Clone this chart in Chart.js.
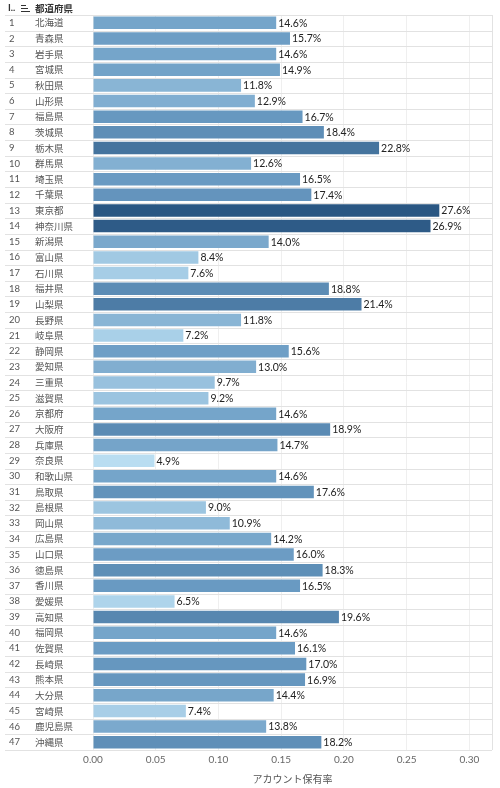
<!DOCTYPE html>
<html>
<head>
<meta charset="utf-8">
<script src="https://cdn.jsdelivr.net/npm/chart.js@4"></script>
<style>
  html, body { margin: 0; padding: 0; background: #fff; }
  #wrap { width: 500px; height: 788px; position: relative; }
</style>
</head>
<body>
<div id="wrap"><canvas id="bar-chart"></canvas></div>
<script>
const PREFS = [
  "北海道", "青森県", "岩手県", "宮城県", "秋田県", "山形県", "福島県", "茨城県",
  "栃木県", "群馬県", "埼玉県", "千葉県", "東京都", "神奈川県", "新潟県", "富山県",
  "石川県", "福井県", "山梨県", "長野県", "岐阜県", "静岡県", "愛知県", "三重県",
  "滋賀県", "京都府", "大阪府", "兵庫県", "奈良県", "和歌山県", "鳥取県", "島根県",
  "岡山県", "広島県", "山口県", "徳島県", "香川県", "愛媛県", "高知県", "福岡県",
  "佐賀県", "長崎県", "熊本県", "大分県", "宮崎県", "鹿児島県", "沖縄県",
];
const RATES = [
  0.146, 0.157, 0.146, 0.149, 0.118, 0.129, 0.167, 0.184,
  0.228, 0.126, 0.165, 0.174, 0.276, 0.269, 0.140, 0.084,
  0.076, 0.188, 0.214, 0.118, 0.072, 0.156, 0.130, 0.097,
  0.092, 0.146, 0.189, 0.147, 0.049, 0.146, 0.176, 0.090,
  0.109, 0.142, 0.160, 0.183, 0.165, 0.065, 0.196, 0.146,
  0.161, 0.170, 0.169, 0.144, 0.074, 0.138, 0.182,
];
const X_TICKS = [0, 0.05, 0.1, 0.15, 0.2, 0.25, 0.3];
const HEADER_RANK = "I..";
const HEADER_NAME = "都道府県";
const X_TITLE = "アカウント保有率";

const JP = "'Noto Sans CJK JP', 'Noto Sans', sans-serif";
const NUM = "Lato, 'Noto Sans', sans-serif";

// sequential blue, light -> dark
const STOPS = [[185, 221, 241], [106, 155, 195], [42, 87, 131]];
function shade(v) {
  const lo = Math.min(...RATES), hi = Math.max(...RATES);
  let t = (v - lo) / (hi - lo);
  let a, b;
  if (t < 0.5) { a = STOPS[0]; b = STOPS[1]; t = t / 0.5; }
  else { a = STOPS[1]; b = STOPS[2]; t = (t - 0.5) / 0.5; }
  const c = a.map((x, i) => Math.round(x + (b[i] - x) * t));
  return "rgb(" + c.join(",") + ")";
}

const tablePlugin = {
  id: "table",
  beforeDatasetsDraw(chart) {
    const ctx = chart.ctx, area = chart.chartArea, y = chart.scales.y;
    const step = y.getPixelForValue(1) - y.getPixelForValue(0);
    ctx.save();
    ctx.strokeStyle = "#e2e2e2";
    ctx.lineWidth = 1;
    for (let i = 0; i <= PREFS.length; i++) {
      const py = Math.round(y.getPixelForValue(i) - step / 2) + 0.5;
      ctx.beginPath();
      ctx.moveTo(5, py);
      ctx.lineTo(area.right, py);
      ctx.stroke();
    }
    ctx.beginPath();
    ctx.moveTo(Math.round(area.right) + 0.5, area.top);
    ctx.lineTo(Math.round(area.right) + 0.5, area.bottom);
    ctx.stroke();
    ctx.restore();
  },
  afterDatasetsDraw(chart) {
    const ctx = chart.ctx, y = chart.scales.y;
    const meta = chart.getDatasetMeta(0);
    ctx.save();
    ctx.textBaseline = "middle";
    // header
    ctx.fillStyle = "#333";
    ctx.font = "bold 9.5px " + NUM;
    ctx.fillText(HEADER_RANK, 8, 8);
    ctx.fillRect(21, 5, 5, 1);
    ctx.fillRect(21, 8, 7, 1);
    ctx.fillRect(21, 11, 9, 1);
    ctx.font = "bold 9.5px " + JP;
    ctx.fillText(HEADER_NAME, 35, 8);
    // rows
    PREFS.forEach((name, i) => {
      const py = y.getPixelForValue(i);
      ctx.fillStyle = "#555";
      ctx.font = "9.5px " + NUM;
      ctx.fillText(String(i + 1), 9, py);
      ctx.font = "9.5px " + JP;
      ctx.fillText(name, 35, py);
      const bar = meta.data[i];
      ctx.fillStyle = "#222";
      ctx.font = "10.5px " + NUM;
      ctx.fillText((RATES[i] * 100).toFixed(1) + "%", bar.x + 2, py + 0.5);
    });
    ctx.restore();
  },
};

const BCHART = document.getElementById("bar-chart");

let barChart = new Chart(BCHART, {
  type: "bar",
  data: {
    labels: PREFS,
    datasets: [
      {
        label: X_TITLE,
        data: RATES,
        backgroundColor: RATES.map(shade),
        borderWidth: 0,
        barPercentage: 0.8,
        categoryPercentage: 1,
      },
    ],
  },
  options: {
    indexAxis: "y",
    responsive: true,
    maintainAspectRatio: false,
    animation: false,
    layout: { padding: { left: 93, right: 8, top: 15, bottom: 3 } },
    plugins: { legend: { display: false }, tooltip: { enabled: false } },
    scales: {
      y: { display: false },
      x: {
        min: 0,
        max: 0.318,
        afterBuildTicks: (scale) => {
          scale.ticks = X_TICKS.map((v) => ({ value: v }));
        },
        grid: { color: "#efefef", drawTicks: false },
        border: { display: false },
        ticks: {
          padding: 4,
          color: "#666",
          font: { family: NUM, size: 10 },
          callback: (v) => Number(v).toFixed(2),
        },
        title: {
          display: true,
          text: X_TITLE,
          color: "#555",
          font: { family: JP, size: 10 },
          padding: { top: 3, bottom: 0 },
        },
      },
    },
  },
  plugins: [tablePlugin],
});
</script>
</body>
</html>
